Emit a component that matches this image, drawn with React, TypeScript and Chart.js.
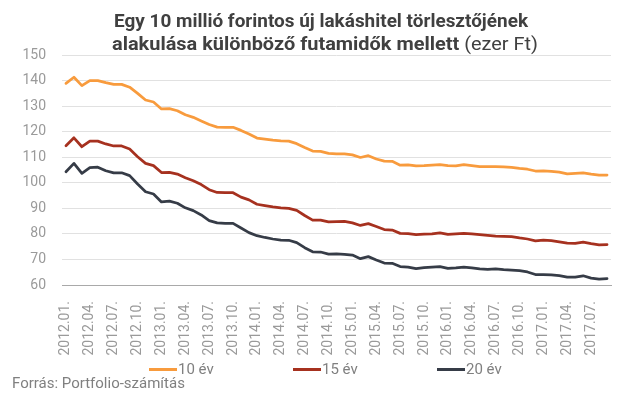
import React, { useEffect, useRef } from 'react';
import { Chart, registerables } from 'chart.js';

Chart.register(...registerables);

const months = [
  '2012.01.', '2012.02.', '2012.03.', '2012.04.', '2012.05.', '2012.06.', '2012.07.', '2012.08.', '2012.09.', '2012.10.', '2012.11.', '2012.12.',
  '2013.01.', '2013.02.', '2013.03.', '2013.04.', '2013.05.', '2013.06.', '2013.07.', '2013.08.', '2013.09.', '2013.10.', '2013.11.', '2013.12.',
  '2014.01.', '2014.02.', '2014.03.', '2014.04.', '2014.05.', '2014.06.', '2014.07.', '2014.08.', '2014.09.', '2014.10.', '2014.11.', '2014.12.',
  '2015.01.', '2015.02.', '2015.03.', '2015.04.', '2015.05.', '2015.06.', '2015.07.', '2015.08.', '2015.09.', '2015.10.', '2015.11.', '2015.12.',
  '2016.01.', '2016.02.', '2016.03.', '2016.04.', '2016.05.', '2016.06.', '2016.07.', '2016.08.', '2016.09.', '2016.10.', '2016.11.', '2016.12.',
  '2017.01.', '2017.02.', '2017.03.', '2017.04.', '2017.05.', '2017.06.', '2017.07.', '2017.08.', '2017.09.',
];

const tenYears = [
  138.9, 141.3, 138.0, 140.0, 140.0, 139.2, 138.5, 138.5, 137.4, 135.0, 132.4, 131.6,
  128.9, 129.0, 128.2, 126.6, 125.6, 124.2, 122.8, 121.8, 121.7, 121.7, 120.5, 119.1,
  117.5, 117.1, 116.7, 116.4, 116.3, 115.3, 113.8, 112.4, 112.3, 111.5, 111.3, 111.3,
  110.9, 109.9, 110.6, 109.3, 108.5, 108.4, 106.9, 107.0, 106.6, 106.7, 106.9, 107.1,
  106.7, 106.6, 107.1, 106.7, 106.3, 106.3, 106.3, 106.2, 106.0, 105.6, 105.3, 104.6,
  104.7, 104.5, 104.2, 103.5, 103.7, 103.9, 103.4, 103.0, 103.0,
];

const fifteenYears = [
  114.5, 117.6, 114.1, 116.3, 116.3, 115.2, 114.4, 114.4, 113.2, 110.2, 107.6, 106.7,
  104.0, 104.1, 103.4, 102.0, 100.8, 99.3, 97.3, 96.2, 96.1, 96.1, 94.4, 93.3,
  91.6, 91.1, 90.6, 90.2, 90.0, 89.2, 87.2, 85.4, 85.4, 84.7, 84.8, 84.9,
  84.3, 83.3, 84.0, 82.9, 81.7, 81.5, 80.2, 80.1, 79.7, 79.9, 80.0, 80.4,
  79.8, 80.0, 80.2, 80.0, 79.7, 79.4, 79.1, 79.0, 78.9, 78.4, 78.0, 77.3,
  77.6, 77.4, 76.9, 76.4, 76.3, 76.8, 76.2, 75.7, 75.8,
];

const twentyYears = [
  104.3, 107.6, 103.7, 105.9, 106.1, 104.7, 103.9, 103.9, 102.8, 99.5, 96.5, 95.6,
  92.5, 92.8, 92.0, 90.2, 89.1, 87.4, 85.2, 84.3, 84.1, 84.1, 82.3, 80.5,
  79.3, 78.6, 78.0, 77.6, 77.5, 76.6, 74.6, 73.0, 72.9, 72.1, 72.2, 72.0,
  71.7, 70.3, 71.1, 69.8, 68.6, 68.5, 67.2, 67.0, 66.4, 66.8, 67.0, 67.2,
  66.5, 66.7, 67.0, 66.7, 66.3, 66.1, 66.3, 66.0, 65.8, 65.6, 65.1, 64.1,
  64.1, 64.0, 63.7, 63.1, 63.1, 63.6, 62.7, 62.3, 62.5,
];

const seriesNames = ['10 év', '15 év', '20 év'];
const seriesColors = ['#F89B3D', '#A6311F', '#363C47'];
const yMin = 60;
const yMax = 150;
const yStep = 10;
const labelEvery = 3;

const titleLine1 = 'Egy 10 millió forintos új lakáshitel törlesztőjének';
const titleLine2Bold = 'alakulása különböző futamidők mellett';
const titleLine2Normal = ' (ezer Ft)';
const sourceText = 'Forrás: Portfolio-számítás';

type Part = { text: string; font: string };

function drawFitted(ctx: CanvasRenderingContext2D, parts: Part[], x0: number, x1: number, y: number) {
  let total = 0;
  parts.forEach((p) => {
    ctx.font = p.font;
    total += ctx.measureText(p.text).width;
  });
  const sx = (x1 - x0) / total;
  ctx.save();
  ctx.translate(x0, y);
  ctx.scale(sx, 1);
  let x = 0;
  parts.forEach((p) => {
    ctx.font = p.font;
    ctx.fillText(p.text, x, 0);
    x += ctx.measureText(p.text).width;
  });
  ctx.restore();
}

const decorPlugin = {
  id: 'decor',
  afterDraw(chart: any) {
    const ctx: CanvasRenderingContext2D = chart.ctx;
    ctx.save();
    ctx.textAlign = 'left';
    ctx.textBaseline = 'alphabetic';
    ctx.fillStyle = '#404040';
    const bold = 'bold 19px Roboto';
    const normal = '19px Roboto';
    drawFitted(ctx, [{ text: titleLine1, font: bold }], 114, 528, 27);
    drawFitted(ctx, [{ text: titleLine2Bold, font: bold }, { text: titleLine2Normal, font: normal }], 112, 538, 50);

    // legend
    const datasets = chart.data.datasets;
    datasets.forEach((ds: any, i: number) => {
      const x0 = 149 + i * 144;
      const y = 369.5;
      ctx.strokeStyle = ds.borderColor;
      ctx.lineWidth = 3;
      ctx.beginPath();
      ctx.moveTo(x0, y);
      ctx.lineTo(x0 + 28, y);
      ctx.stroke();
      ctx.fillStyle = '#808080';
      ctx.font = '15px Roboto';
      ctx.textBaseline = 'middle';
      ctx.fillText(ds.label, x0 + 29, y + 0.5);
    });

    // source
    ctx.textBaseline = 'alphabetic';
    ctx.fillStyle = '#808080';
    ctx.font = '15px Roboto';
    ctx.fillText(sourceText, 12, 388);
    ctx.restore();
  },
};

export default function App() {
  const canvasRef = useRef<HTMLCanvasElement | null>(null);

  useEffect(() => {
    const canvas = canvasRef.current;
    if (!canvas) return;
    const chart = new Chart(canvas, {
      type: 'line',
      data: {
        labels: months,
        datasets: [
          { label: seriesNames[0], data: tenYears, borderColor: seriesColors[0], backgroundColor: seriesColors[0] },
          { label: seriesNames[1], data: fifteenYears, borderColor: seriesColors[1], backgroundColor: seriesColors[1] },
          { label: seriesNames[2], data: twentyYears, borderColor: seriesColors[2], backgroundColor: seriesColors[2] },
        ].map((d) => ({
          ...d,
          borderWidth: 2.75,
          pointRadius: 0,
          pointHoverRadius: 0,
          tension: 0,
          fill: false,
          borderJoinStyle: 'round' as const,
          borderCapStyle: 'round' as const,
        })),
      },
      options: {
        responsive: false,
        animation: false,
        devicePixelRatio: 1,
        layout: { padding: { top: 55, right: 23, bottom: 0, left: 0 } },
        plugins: {
          legend: { display: false },
          title: { display: false },
          tooltip: { enabled: false },
        },
        scales: {
          x: {
            type: 'category',
            offset: true,
            grid: { display: false, drawTicks: false },
            border: { display: true, color: '#a9a9a9', width: 1 },
            ticks: {
              autoSkip: false,
              maxRotation: 90,
              minRotation: 90,
              padding: 16,
              color: '#9a9a9a',
              font: { family: 'Roboto', size: 14 },
              callback: (_v: any, index: number) => (index % labelEvery === 0 ? months[index] : ''),
            },
            afterFit: (axis: any) => {
              axis.height = 110;
            },
          },
          y: {
            min: yMin,
            max: yMax,
            grid: { color: '#e1e1e1', lineWidth: 1, drawTicks: false },
            border: { display: false },
            ticks: {
              stepSize: yStep,
              padding: 16,
              color: '#9a9a9a',
              font: { family: 'Roboto', size: 14 },
            },
            afterFit: (axis: any) => {
              axis.width = 62;
            },
          },
        },
      },
      plugins: [decorPlugin],
    });
    return () => chart.destroy();
  }, []);

  return (
    <div style={{ position: 'fixed', left: 0, top: 0, width: 640, height: 395, background: '#fff' }}>
      <canvas ref={canvasRef} width={640} height={395} style={{ display: 'block', width: 640, height: 395 }} />
    </div>
  );
}
